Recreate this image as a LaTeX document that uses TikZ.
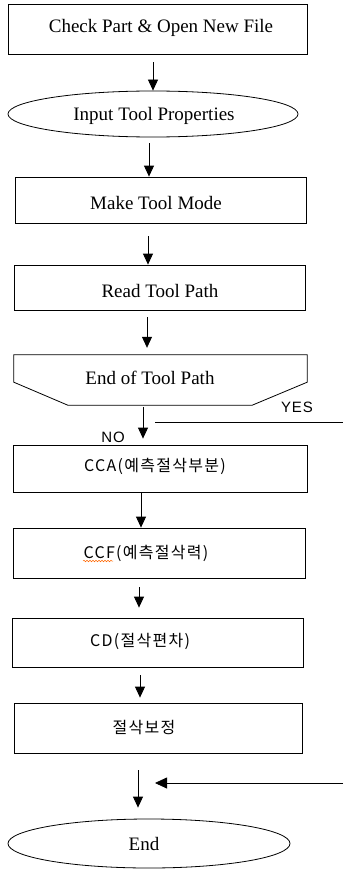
\documentclass[tikz,border=0pt]{standalone}
\usepackage{fontspec}
\setmainfont{Liberation Serif}
\newfontfamily\kofont[LetterSpace=8]{Noto Sans CJK KR}
\newfontfamily\yesfont[LetterSpace=6]{Liberation Sans}
\usetikzlibrary{arrows.meta,shapes.geometric,decorations.pathmorphing}
\begin{document}
\begin{tikzpicture}[x=1pt,y=-1pt,
  boxn/.style={draw, line width=0.8pt, inner sep=0pt},
  ellb/.style={draw, ellipse, line width=0.8pt, inner sep=0pt},
  entext/.style={inner sep=0pt, font=\fontsize{19}{20}\selectfont},
  kotext/.style={inner sep=0pt, font=\kofont\fontsize{16}{18}\selectfont},
  yntext/.style={inner sep=0pt, font=\yesfont\fontsize{15}{16}\selectfont},
  arr/.style={line width=0.8pt, -{Triangle[width=10pt,length=11pt]}},
  plain/.style={line width=0.8pt}]
\useasboundingbox (0,0) rectangle (343,872);
% nodes
\node[boxn, minimum width=299pt, minimum height=50pt] (b1) at (157.5,29) {};
\node[entext] (t1) at (161,28) {Check Part \& Open New File};
\node[ellb, minimum width=290pt, minimum height=46pt] (e1) at (153,114) {};
\node[entext] (t2) at (154,116) {Input Tool Properties};
\node[boxn, minimum width=291pt, minimum height=46pt] (b3) at (160.5,200) {};
\node[entext] (t3) at (156,203) {Make Tool Mode};
\node[boxn, minimum width=291pt, minimum height=45pt] (b4) at (159.5,287.5) {};
\node[entext] (t4) at (160,291) {Read Tool Path};
\node[inner sep=0pt, minimum width=293pt, minimum height=50pt] (p5) at (160.5,380) {};
\draw[plain] (p5.north west) -- (p5.north east) -- ([yshift=23pt]p5.south east)
  -- ([xshift=-55pt]p5.south east) -- ([xshift=54pt]p5.south west)
  -- ([yshift=23pt]p5.south west) -- cycle;
\node[entext] (t5) at (150,378) {End of Tool Path};
\node[boxn, minimum width=294pt, minimum height=47pt] (b6) at (160,468.5) {};
\node[kotext] (t6) at (155,466) {CCA(예측절삭부분)};
\node[boxn, minimum width=292pt, minimum height=50pt] (b7) at (159,553) {};
\node[kotext] (t7) at (146,553) {CCF(예측절삭력)};
\node[boxn, minimum width=291pt, minimum height=49pt] (b8) at (157.5,642.5) {};
\node[kotext] (t8) at (140,641) {CD(절삭편차)};
\node[boxn, minimum width=288pt, minimum height=50pt] (b9) at (158,728) {};
\node[kotext] (t9) at (144,727) {절삭보정};
\node[ellb, minimum width=282pt, minimum height=49pt] (e10) at (149,843.5) {};
\node[entext] (t10) at (144,844) {End};
\node[yntext] (yes) at (297,407) {YES};
\node[yntext] (no) at (113,437) {NO};
% spell-check underline
\coordinate (ulL) at (83,561);
\coordinate (ulR) at (113,561);
\draw[orange!80!red, line width=0.5pt, decorate, decoration={snake, amplitude=0.8pt, segment length=3pt}] (ulL) -- (ulR);
% connectors
\draw[arr] ([xshift=-4.5pt,yshift=-8pt]b1.south) -- (e1.north);
\draw[arr] ([xshift=-4pt,yshift=-6pt]e1.south) -- ([xshift=-11.5pt]b3.north);
\draw[arr] ([xshift=-12.5pt,yshift=-13pt]b3.south) -- ([xshift=-11.5pt]b4.north);
\draw[arr] ([xshift=-12.5pt,yshift=-7pt]b4.south) -- ([xshift=-13.5pt,yshift=7pt]p5.north);
\draw[arr] ([xshift=-17.5pt,yshift=-2pt]p5.south) -- ([xshift=-17pt,yshift=6pt]b6.north);
\draw[arr] ([xshift=-19pt]b6.south) -- ([xshift=-18pt]b7.north);
\draw[arr] ([xshift=-20pt,yshift=-9pt]b7.south) -- ([xshift=-18.5pt,yshift=10pt]b8.north);
\draw[arr] ([xshift=-17.5pt,yshift=-8pt]b8.south) -- ([xshift=-18pt,yshift=5pt]b9.north);
\draw[arr] ([xshift=-20pt,yshift=-17pt]b9.south) -- ([xshift=-11pt,yshift=11pt]e10.north);
\coordinate (yesL) at (155,422);
\coordinate (yesR) at (343,422);
\draw[plain] (yesL) -- (yesR);
\coordinate (backR) at (343,783);
\coordinate (backL) at (155,783);
\draw[line width=0.8pt, -{Triangle[width=11pt,length=12pt]}] (backR) -- (backL);
\end{tikzpicture}
\end{document}
